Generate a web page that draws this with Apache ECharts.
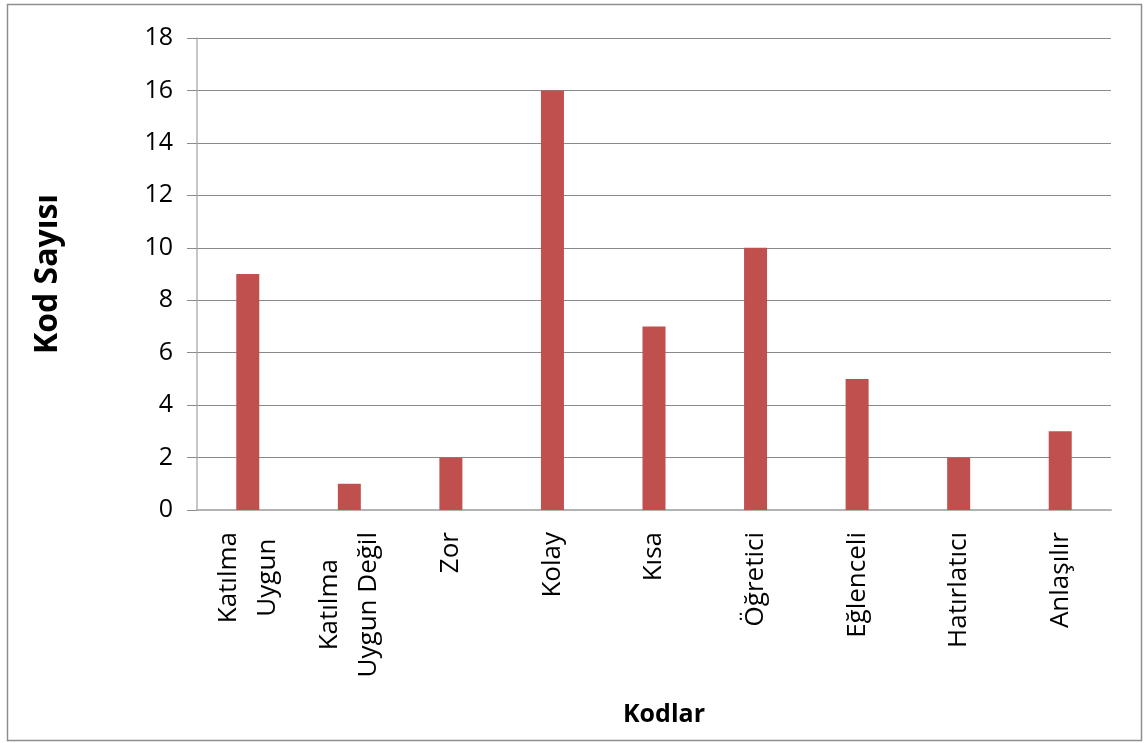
<!DOCTYPE html>
<html>
<head>
<meta charset="utf-8">
<title>Kodlar</title>
<script src="https://cdn.jsdelivr.net/npm/echarts@6/dist/echarts.min.js"></script>
<style>
  html, body { margin: 0; padding: 0; background: #fff; }
  #chart { width: 1145px; height: 743px; }
</style>
</head>
<body>
<div id="chart"></div>
<script>
// data
const categories = ['Katılma\nUygun', 'Katılma\nUygun Değil', 'Zor', 'Kolay', 'Kısa', 'Öğretici', 'Eğlenceli', 'Hatırlatıcı', 'Anlaşılır'];
const codeCounts = [9, 1, 2, 16, 7, 10, 5, 2, 3];
const yMin = 0;
const yMax = 18;
const yStep = 2;

const labelFontSize = 26;
const labelFamily = '"Open Sans", sans-serif';

// two-line labels: centre the shorter line under the longer one
const measure = document.createElement('canvas').getContext('2d');
measure.font = labelFontSize + 'px ' + labelFamily;
const labelRich = {};
categories.forEach(function (cat, i) {
  const lines = cat.split('\n');
  const widths = lines.map(function (l) { return measure.measureText(l).width; });
  const widest = Math.max.apply(null, widths);
  lines.forEach(function (l, j) {
    labelRich['c' + i + '_' + j] = {
      fontSize: labelFontSize,
      fontFamily: labelFamily,
      color: '#000',
      lineHeight: 39,
      padding: [0, (widest - widths[j]) / 2, 0, 0]
    };
  });
});

const chart = echarts.init(document.getElementById('chart'));
const option = {
  animation: false,
  backgroundColor: '#fff',
  graphic: [{
    type: 'rect',
    shape: { x: 7.5, y: 4.5, width: 1134, height: 736 },
    style: { fill: 'none', stroke: '#8e8e8e', lineWidth: 1.5 },
    silent: true
  }],
  grid: { left: 197, right: 34, top: 38, bottom: 233 },
  xAxis: {
    type: 'category',
    data: categories,
    name: 'Kodlar',
    nameLocation: 'middle',
    nameGap: 192,
    nameTextStyle: {
      fontSize: 25, fontWeight: 'bold', fontFamily: labelFamily, color: '#000',
      padding: [0, 0, 0, 20]
    },
    axisLine: { lineStyle: { color: '#b3b3b3', width: 2 } },
    axisTick: { show: false },
    axisLabel: {
      interval: 0,
      rotate: 90,
      margin: 22,
      formatter: function (value, index) {
        return value.split('\n').map(function (l, j) {
          return '{c' + index + '_' + j + '|' + l + '}';
        }).join('\n');
      },
      rich: labelRich
    }
  },
  yAxis: {
    type: 'value',
    min: yMin,
    max: yMax,
    interval: yStep,
    name: 'Kod Sayısı',
    nameLocation: 'middle',
    nameRotate: 90,
    nameGap: 133,
    nameTextStyle: { fontSize: 32, fontWeight: 'bold', fontFamily: labelFamily, color: '#000' },
    axisLine: { show: true, lineStyle: { color: '#b3b3b3', width: 1.5 } },
    axisTick: { show: true, inside: false, length: 10, lineStyle: { color: '#8a8a8a' } },
    axisLabel: { fontSize: 25, fontFamily: labelFamily, color: '#000', margin: 24 },
    splitLine: { lineStyle: { color: '#8a8a8a', width: 1 } }
  },
  series: [{
    type: 'bar',
    data: codeCounts,
    barWidth: 23,
    itemStyle: { color: '#c0504d' }
  }]
};
chart.setOption(option);
</script>
</body>
</html>
